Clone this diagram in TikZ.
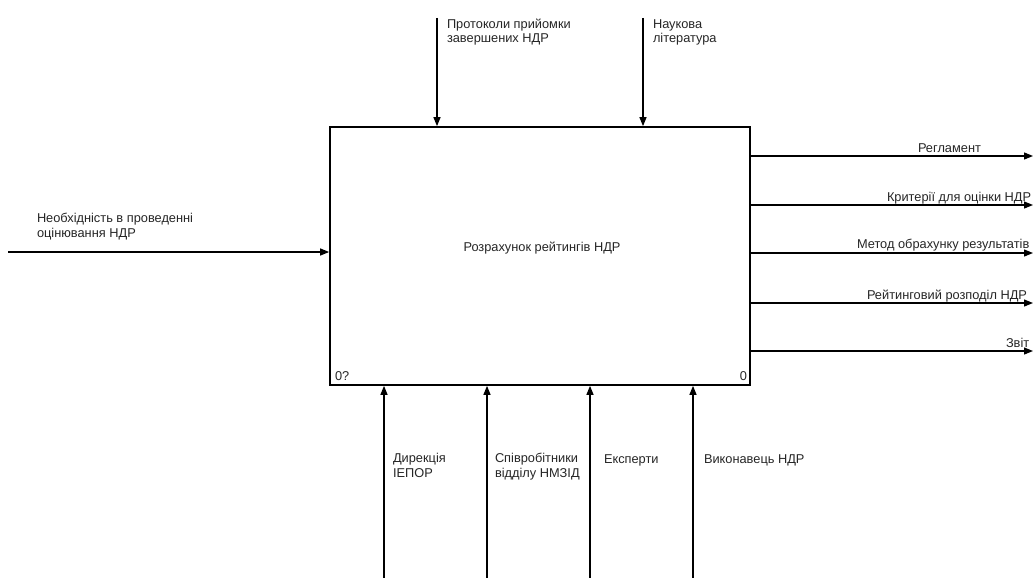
\documentclass[tikz,border=0pt]{standalone}
\usepackage{fontspec}
\setmainfont{Liberation Sans}
\usetikzlibrary{arrows.meta}
\begin{document}
\begin{tikzpicture}[x=1pt,y=1pt,
  lbl/.style={inner sep=0pt,outer sep=0pt,align=left,text=black!85,
    font=\fontsize{12.8}{14.5}\selectfont},
  arr/.style={line width=1.2pt,-{Triangle[length=9pt,width=7pt]}},
  func/.style={draw,line width=1.7pt,inner sep=0pt,minimum width=420pt,minimum height=258pt}]
\useasboundingbox[fill=white] (0,0) rectangle (1033,-578);
% function box
\node[func] (box) at (540,-256) {};
\node[lbl,anchor=base] (title) at (542,-251) {Розрахунок рейтингів НДР};
\node[lbl,anchor=base west] (num1) at (335,-380) {0?};
\node[lbl,anchor=base east] (num2) at (747,-380) {0};
% controls (top)
\coordinate (c1) at (437,-18);
\coordinate (c2) at (643,-18);
\draw[arr] (c1) -- (c1 |- box.north);
\draw[arr] (c2) -- (c2 |- box.north);
\node[lbl,anchor=base west] (lc1) at (447,-43) {Протоколи прийомки\\завершених НДР};
\node[lbl,anchor=base west] (lc2) at (653,-43) {Наукова\\література};
% input
\coordinate (i1) at (8,-252);
\draw[arr] (i1) -- (i1 -| box.west);
\node[lbl,anchor=base west] (li1) at (37,-237) {Необхідність в проведенні\\оцінювання НДР};
% outputs
\coordinate (o1) at (1033,-156);
\coordinate (o2) at (1033,-205);
\coordinate (o3) at (1033,-253);
\coordinate (o4) at (1033,-303);
\coordinate (o5) at (1033,-351);
\foreach \o in {o1,o2,o3,o4,o5}{\draw[arr] (\o -| box.east) -- (\o);}
\node[lbl,anchor=base west] (lo1) at (918,-152) {Регламент};
\node[lbl,anchor=base west] (lo2) at (887,-201) {Критерії для оцінки НДР};
\node[lbl,anchor=base west] (lo3) at (857,-248) {Метод обрахунку результатів};
\node[lbl,anchor=base west] (lo4) at (867,-299) {Рейтинговий розподіл НДР};
\node[lbl,anchor=base west] (lo5) at (1006,-347) {Звіт};
% mechanisms (bottom)
\coordinate (m1) at (384,-578);
\coordinate (m2) at (487,-578);
\coordinate (m3) at (590,-578);
\coordinate (m4) at (693,-578);
\foreach \m in {m1,m2,m3,m4}{\draw[arr] (\m) -- (\m |- box.south);}
\node[lbl,anchor=base west] (lm1) at (393,-477) {Дирекція\\ІЕПОР};
\node[lbl,anchor=base west] (lm2) at (495,-477) {Співробітники\\відділу НМЗІД};
\node[lbl,anchor=base west] (lm3) at (604,-463) {Експерти};
\node[lbl,anchor=base west] (lm4) at (704,-463) {Виконавець НДР};
\end{tikzpicture}
\end{document}
